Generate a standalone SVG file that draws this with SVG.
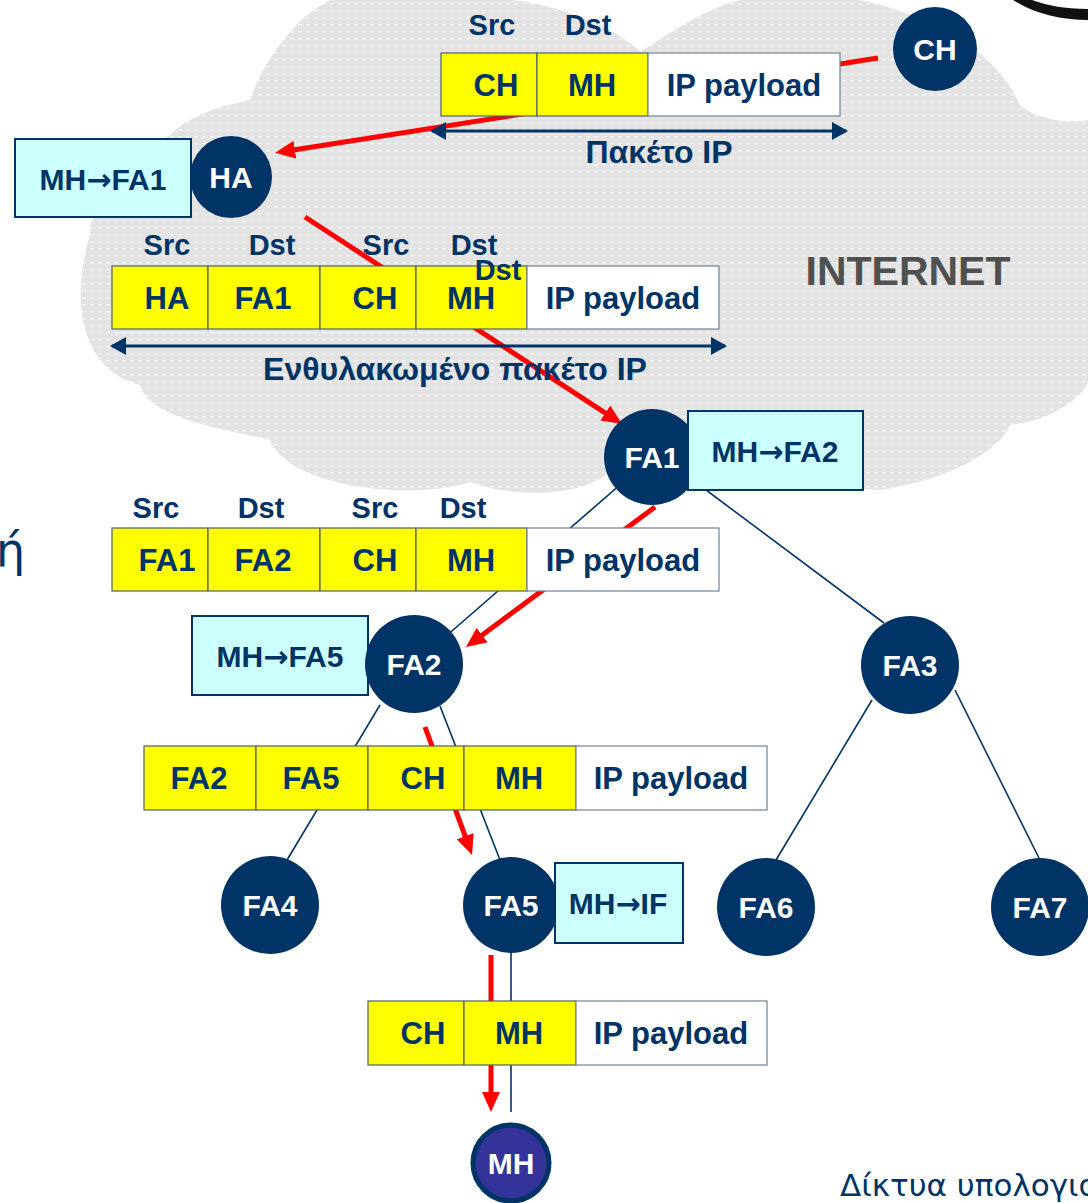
<svg xmlns="http://www.w3.org/2000/svg" width="1088" height="1203" viewBox="0 0 1088 1203">
<style>
.lbl{font-family:"Liberation Sans",Arial,sans-serif;font-weight:bold;font-size:29px;fill:#003366;text-anchor:middle}
.cell{font-family:"Liberation Sans",Arial,sans-serif;font-weight:bold;font-size:31px;fill:#003366;text-anchor:middle}
.ntxt{font-family:"Liberation Sans",Arial,sans-serif;font-weight:bold;font-size:30px;fill:#ffffff;text-anchor:middle}
.rtxt{font-family:"Liberation Sans",Arial,sans-serif;font-weight:bold;font-size:30px;fill:#003366;text-anchor:middle}
.ar{font-family:"DejaVu Sans",sans-serif;font-weight:bold}
.cap{font-family:"Liberation Sans",Arial,sans-serif;font-weight:bold;font-size:32px;fill:#003366;text-anchor:middle}
.y{fill:#ffff00;stroke:#4f5f6f;stroke-width:1.2}
.w{fill:#ffffff;stroke:#6f819a;stroke-width:1.2}
.rt{fill:#ccffff;stroke:#003366;stroke-width:2}
.nd{fill:#003366}
.tree{stroke:#003366;stroke-width:1.6;fill:none}
.red{stroke:#ff0000;stroke-width:5;fill:none;marker-end:url(#rh)}
.dbl{stroke:#003366;stroke-width:3;fill:none;marker-start:url(#bh0);marker-end:url(#bh)}
</style>
<defs>
<pattern id="dots" width="8" height="7" patternUnits="userSpaceOnUse">
<rect width="8" height="7" fill="#e3e3e3"/>
<rect x="2" y="3" width="4" height="1.5" fill="#f3f3f3"/>
</pattern>
<marker id="rh" markerUnits="userSpaceOnUse" markerWidth="20" markerHeight="18" refX="8" refY="9" orient="auto">
<path d="M0,0 L20,9 L0,18 Z" fill="#ff0000"/>
</marker>
<marker id="bh" markerUnits="userSpaceOnUse" markerWidth="16" markerHeight="18" refX="14" refY="9" orient="auto">
<path d="M0,0 L16,9 L0,18 Z" fill="#003366"/>
</marker>
<marker id="bh0" markerUnits="userSpaceOnUse" markerWidth="16" markerHeight="18" refX="2" refY="9" orient="auto">
<path d="M16,0 L0,9 L16,18 Z" fill="#003366"/>
</marker>
</defs>
<rect width="1088" height="1203" fill="#ffffff"/>
<g id="cloud">
<path d="M 90,235 C 70,300 80,370 140,385 C 150,420 230,430 270,440 C 290,490 420,500 470,482 C 520,500 590,495 610,470 L 880,490 C 950,480 1000,450 1010,425 C 1060,420 1088,390 1088,380 L 1088,120 C 1060,125 1030,115 1020,105 C 1000,60 950,20 860,0 L 740,0 C 700,10 660,40 640,52 C 620,30 560,5 513,0 L 330,0 C 290,20 260,70 250,100 C 200,110 180,125 170,135 C 120,160 90,200 90,235 Z" fill="url(#dots)"/>
</g>
<path d="M1013,0 C1035,14 1060,20 1088,20 L1088,9 C1065,9 1045,5 1032,0 Z" fill="#111111"/>
<text x="908" y="285" style="font-family:'Liberation Sans',Arial,sans-serif;font-weight:bold;font-size:41px;fill:#505050;text-anchor:middle">INTERNET</text>
<g id="connectors">
<line class="tree" x1="652" y1="457" x2="414" y2="664"/>
<line class="tree" x1="690" y1="478" x2="884" y2="623"/>
<line class="tree" x1="380" y1="705" x2="287" y2="860"/>
<line class="tree" x1="440" y1="706" x2="500" y2="860"/>
<line class="tree" x1="872" y1="700" x2="776" y2="860"/>
<line class="tree" x1="955" y1="690" x2="1040" y2="860"/>
<line class="tree" x1="511" y1="950" x2="511" y2="1112"/>
<line class="red" x1="878" y1="58" x2="287" y2="151"/>
<line class="red" x1="305" y1="217" x2="612" y2="417.4"/>
<line class="red" x1="655" y1="507" x2="475.6" y2="639.9"/>
<line class="red" x1="425" y1="727" x2="467.9" y2="843.7"/>
<line class="red" x1="491" y1="955" x2="491" y2="1100"/>
</g>
<g id="packet1">
<rect class="y" x="441" y="53" width="96" height="63"/>
<rect class="y" x="537" y="53" width="111" height="63"/>
<rect class="w" x="648" y="53" width="192" height="63"/>
<text class="lbl" x="492" y="35">Src</text>
<text class="lbl" x="588" y="35">Dst</text>
<text class="cell" x="496" y="96">CH</text>
<text class="cell" x="592" y="96">MH</text>
<text class="cell" x="744" y="96">IP payload</text>
<line class="dbl" x1="432" y1="131" x2="846" y2="131"/>
<text class="cap" x="659" y="163">Πακέτο IP</text>
</g>
<g id="packet2">
<rect class="y" x="112" y="266" width="96" height="63"/>
<rect class="y" x="208" y="266" width="112" height="63"/>
<rect class="y" x="320" y="266" width="96" height="63"/>
<rect class="y" x="416" y="266" width="111" height="63"/>
<rect class="w" x="527" y="266" width="192" height="63"/>
<text class="lbl" x="167" y="255">Src</text>
<text class="lbl" x="272" y="255">Dst</text>
<text class="lbl" x="386" y="255">Src</text>
<text class="lbl" x="474" y="255">Dst</text>
<text class="lbl" x="498" y="280">Dst</text>
<text class="cell" x="167" y="309">HA</text>
<text class="cell" x="263" y="309">FA1</text>
<text class="cell" x="375" y="309">CH</text>
<text class="cell" x="471" y="309">MH</text>
<text class="cell" x="623" y="309">IP payload</text>
<line class="dbl" x1="112" y1="346" x2="725" y2="346"/>
<text class="cap" x="455" y="380">Ενθυλακωμένο πακέτο IP</text>
</g>
<g id="packet3">
<rect class="y" x="112" y="528" width="96" height="63"/>
<rect class="y" x="208" y="528" width="112" height="63"/>
<rect class="y" x="320" y="528" width="96" height="63"/>
<rect class="y" x="416" y="528" width="111" height="63"/>
<rect class="w" x="527" y="528" width="192" height="63"/>
<text class="lbl" x="156" y="518">Src</text>
<text class="lbl" x="261" y="518">Dst</text>
<text class="lbl" x="375" y="518">Src</text>
<text class="lbl" x="463" y="518">Dst</text>
<text class="cell" x="167" y="571">FA1</text>
<text class="cell" x="263" y="571">FA2</text>
<text class="cell" x="375" y="571">CH</text>
<text class="cell" x="471" y="571">MH</text>
<text class="cell" x="623" y="571">IP payload</text>
</g>
<g id="packet4">
<rect class="y" x="144" y="746" width="112" height="64"/>
<rect class="y" x="256" y="746" width="112" height="64"/>
<rect class="y" x="368" y="746" width="96" height="64"/>
<rect class="y" x="464" y="746" width="112" height="64"/>
<rect class="w" x="576" y="746" width="191" height="64"/>
<text class="cell" x="199" y="789">FA2</text>
<text class="cell" x="311" y="789">FA5</text>
<text class="cell" x="423" y="789">CH</text>
<text class="cell" x="519" y="789">MH</text>
<text class="cell" x="671" y="789">IP payload</text>
</g>
<g id="packet5">
<rect class="y" x="368" y="1001" width="96" height="64"/>
<rect class="y" x="464" y="1001" width="112" height="64"/>
<rect class="w" x="576" y="1001" width="191" height="64"/>
<text class="cell" x="423" y="1044">CH</text>
<text class="cell" x="519" y="1044">MH</text>
<text class="cell" x="671" y="1044">IP payload</text>
</g>
<g id="node-CH">
<circle class="nd" cx="935" cy="49" r="42"/>
<text class="ntxt" x="935" y="60">CH</text>
</g>
<g id="node-HA">
<rect class="rt" x="15" y="139" width="176" height="78"/>
<text class="rtxt" x="103" y="190">MH<tspan class="ar">→</tspan>FA1</text>
<circle class="nd" cx="231" cy="177" r="41"/>
<text class="ntxt" x="231" y="188">HA</text>
</g>
<g id="node-FA1">
<circle class="nd" cx="652" cy="457" r="48"/>
<text class="ntxt" x="652" y="468">FA1</text>
<rect class="rt" x="688" y="411" width="175" height="79"/>
<text class="rtxt" x="775" y="462">MH<tspan class="ar">→</tspan>FA2</text>
</g>
<g id="node-FA2">
<rect class="rt" x="192" y="616" width="176" height="79"/>
<text class="rtxt" x="280" y="667">MH<tspan class="ar">→</tspan>FA5</text>
<circle class="nd" cx="414" cy="664" r="49"/>
<text class="ntxt" x="414" y="675">FA2</text>
</g>
<g id="node-FA3">
<circle class="nd" cx="910" cy="665" r="49"/>
<text class="ntxt" x="910" y="676">FA3</text>
</g>
<g id="node-FA4">
<circle class="nd" cx="270" cy="905" r="49"/>
<text class="ntxt" x="270" y="916">FA4</text>
</g>
<g id="node-FA5">
<circle class="nd" cx="511" cy="905" r="48"/>
<text class="ntxt" x="511" y="916">FA5</text>
<rect class="rt" x="555" y="863" width="128" height="80"/>
<text class="rtxt" x="618" y="914">MH<tspan class="ar">→</tspan>IF</text>
</g>
<g id="node-FA6">
<circle class="nd" cx="766" cy="907" r="49"/>
<text class="ntxt" x="766" y="918">FA6</text>
</g>
<g id="node-FA7">
<circle class="nd" cx="1040" cy="907" r="49"/>
<text class="ntxt" x="1040" y="918">FA7</text>
</g>
<g id="node-MH">
<circle cx="511" cy="1163" r="38" fill="#333399" stroke="#003366" stroke-width="5"/>
<text class="ntxt" x="511" y="1174">MH</text>
</g>
<text x="-4" y="566" style="font-family:'DejaVu Sans','Noto Sans',sans-serif;font-size:46px;fill:#003366">ή</text>
<text x="840" y="1196" style="font-family:'DejaVu Sans','Noto Sans',sans-serif;font-size:31px;fill:#003366">Δίκτυα υπολογιστών</text>
</svg>
